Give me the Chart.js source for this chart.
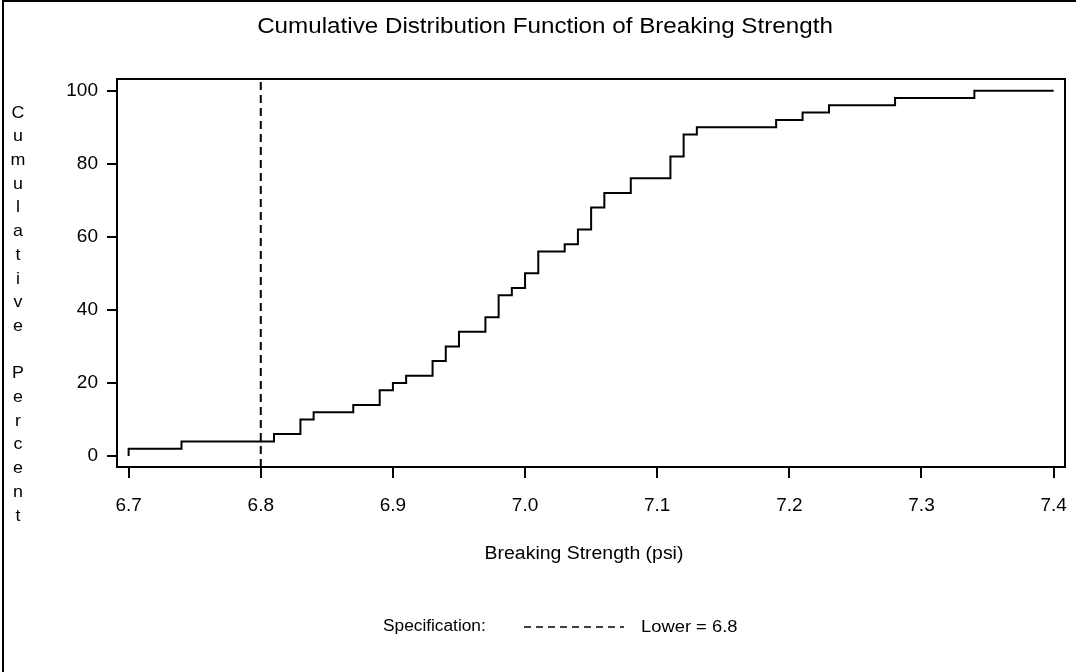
<!DOCTYPE html>
<html>
<head>
<meta charset="utf-8">
<title>Cumulative Distribution Function of Breaking Strength</title>
<script src="https://cdn.jsdelivr.net/npm/chart.js@4.4.1/dist/chart.umd.min.js"></script>
<style>
  body { margin: 0; background: #fff; }
  #chart { display: block; }
</style>
</head>
<body>
<canvas id="chart" width="1076" height="672"></canvas>
<script>
// step points of the empirical CDF (x = breaking strength, y = cumulative percent)
const strengthValues = [6.70, 6.70, 6.74, 6.81, 6.83, 6.84, 6.87, 6.89, 6.90, 6.91, 6.93,
  6.94, 6.95, 6.97, 6.98, 6.99, 7.00, 7.01, 7.03, 7.04, 7.05,
  7.06, 7.08, 7.11, 7.12, 7.13, 7.19, 7.21, 7.23, 7.28, 7.34, 7.40];
const cumulativePercent = [0, 2, 4, 6, 10, 12, 14, 18, 20, 22, 26,
  30, 34, 38, 44, 46, 50, 56, 58, 62, 68,
  72, 76, 82, 88, 90, 92, 94, 96, 98, 100, 100];

const xTicks = [6.7, 6.8, 6.9, 7.0, 7.1, 7.2, 7.3, 7.4];
const yTicks = [0, 20, 40, 60, 80, 100];
const specLower = 6.8;

const titleText = 'Cumulative Distribution Function of Breaking Strength';
const xTitle = 'Breaking Strength (psi)';
const yTitle = 'Cumulative Percent';

const X_MIN = 6.6912, X_MAX = 7.4086;
const Y_MIN = -3.0, Y_MAX = 103.2;
const FONT = '"Liberation Sans", Arial, sans-serif';

const cdfPoints = strengthValues.map((v, i) => ({ x: v, y: cumulativePercent[i] }));

// SAS text looks a bit wider than Arial, so stretch it horizontally
function drawText(ctx, text, x, y, size, align, stretch) {
  ctx.save();
  ctx.font = size + 'px ' + FONT;
  ctx.textAlign = align;
  ctx.textBaseline = 'middle';
  ctx.translate(x, y);
  ctx.scale(stretch, 1);
  ctx.fillText(text, 0, 0);
  ctx.restore();
}

// texts outside the plot box + frame
const decorations = {
  id: 'decorations',
  afterDraw(chart) {
    const ctx = chart.ctx;
    const area = chart.chartArea;
    ctx.save();
    ctx.strokeStyle = '#000';
    ctx.fillStyle = '#000';

    // outer frame (only left and top edges show)
    ctx.lineWidth = 2;
    ctx.beginPath();
    ctx.moveTo(3, 672);
    ctx.lineTo(3, 1);
    ctx.lineTo(1076, 1);
    ctx.stroke();

    // plot box
    ctx.strokeRect(area.left, area.top, area.right - area.left, area.bottom - area.top);

    drawText(ctx, titleText, 545, 27, 22, 'center', 1.1);

    // stacked y title
    let y = 113;
    for (const ch of yTitle) {
      if (ch !== ' ') drawText(ctx, ch, 18, y, 17, 'center', 1.05);
      y += 23.7;
    }

    drawText(ctx, xTitle, 584, 554, 18, 'center', 1.08);

    // legend
    drawText(ctx, 'Specification:', 383, 627, 16, 'left', 1.08);
    ctx.beginPath();
    ctx.setLineDash([7, 5]);
    ctx.lineWidth = 1.5;
    ctx.moveTo(524, 627);
    ctx.lineTo(624, 627);
    ctx.stroke();
    ctx.setLineDash([]);
    drawText(ctx, 'Lower = ' + specLower.toFixed(1), 641, 627, 17, 'left', 1.08);

    ctx.restore();
  }
};

const ctx = document.getElementById('chart').getContext('2d');
new Chart(ctx, {
  type: 'line',
  data: {
    datasets: [
      {
        label: 'CDF',
        data: cdfPoints,
        stepped: 'before',
        borderColor: '#000',
        borderWidth: 2,
        pointRadius: 0,
        fill: false
      },
      {
        label: 'Lower',
        data: [{ x: specLower, y: Y_MIN }, { x: specLower, y: Y_MAX }],
        borderColor: '#000',
        borderWidth: 2,
        borderDash: [8, 5],
        pointRadius: 0,
        fill: false
      }
    ]
  },
  options: {
    responsive: false,
    animation: false,
    layout: { padding: { top: 79, right: 11, bottom: 155, left: 0 } },
    plugins: {
      legend: { display: false },
      title: { display: false },
      tooltip: { enabled: false }
    },
    scales: {
      x: {
        type: 'linear',
        min: X_MIN,
        max: X_MAX,
        afterBuildTicks: (scale) => { scale.ticks = xTicks.map(v => ({ value: v })); },
        afterFit: (scale) => { scale.height = 50; scale.paddingLeft = 0; scale.paddingRight = 0; },
        border: { display: false },
        grid: { drawOnChartArea: false, drawTicks: true, tickLength: 11, color: '#000', lineWidth: 2 },
        ticks: {
          color: '#000',
          font: { family: FONT, size: 19 },
          padding: 16,
          maxRotation: 0,
          callback: (v) => Number(v).toFixed(1)
        }
      },
      y: {
        type: 'linear',
        min: Y_MIN,
        max: Y_MAX,
        afterBuildTicks: (scale) => { scale.ticks = yTicks.map(v => ({ value: v })); },
        afterFit: (scale) => { scale.width = 117; scale.paddingTop = 0; scale.paddingBottom = 0; },
        border: { display: false },
        grid: { drawOnChartArea: false, drawTicks: true, tickLength: 10, color: '#000', lineWidth: 2 },
        ticks: {
          color: '#000',
          font: { family: FONT, size: 19 },
          padding: 9,
          callback: (v) => String(v)
        }
      }
    }
  },
  plugins: [decorations]
});
</script>
</body>
</html>
